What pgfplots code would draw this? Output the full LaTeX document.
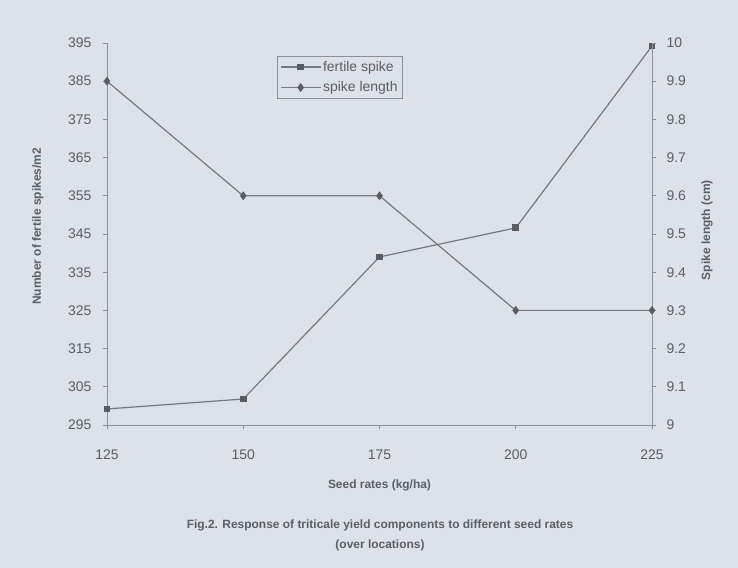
\documentclass[border=0pt]{standalone}
\usepackage{pgfplots}
\pgfplotsset{compat=1.18}
\usepackage{fontspec}
\setmainfont{Liberation Sans}
\definecolor{bgcol}{HTML}{DDE2EA}
\definecolor{txt}{HTML}{5A5E66}
\definecolor{ln}{HTML}{747882}
\definecolor{mk}{HTML}{585C64}
\definecolor{ax}{HTML}{8C9098}
\begin{document}
\begin{tikzpicture}
\fill[bgcol] (-107bp,-143bp) rectangle (631bp,425bp);
\useasboundingbox (-107bp,-143bp) rectangle (631bp,425bp);
\pgfplotsset{
 base/.style={scale only axis, width=545bp, height=382bp, xmin=125, xmax=225,
  at={(0,0)}, anchor=south west,
  axis line style={ax, line width=0.8pt}, tick style={ax, line width=0.8pt},
  tick align=outside, major tick length=4bp,
  ticklabel style={font=\fontsize{14}{16}\selectfont, text=txt},
  label style={font=\bfseries\fontsize{12}{14}\selectfont, text=txt},
  /pgf/number format/assume math mode=true},
}
\begin{axis}[base, axis y line*=left, axis x line*=bottom,
  ymin=295, ymax=395, ytick={295,305,315,325,335,345,355,365,375,385,395},
  xtick={125,150,175,200,225},
  xticklabel style={yshift=-17bp},
  yticklabel style={xshift=-8bp},
  ylabel={Number of fertile spikes/m2}, xlabel={Seed rates (kg/ha)},
  xlabel style={at={(axis description cs:0.5,0)}, anchor=center, yshift=-60bp},
  ylabel style={at={(axis description cs:-0.127,0.52)}, anchor=center},
]
\addplot[ln, line width=1.2pt, mark=square*, mark size=2.8bp, mark options={mk, fill=mk}]
  coordinates {(125,299.2)(150,301.8)(175,339)(200,346.6)(225,394.2)};
\end{axis}
\begin{axis}[base, axis y line*=right, axis x line=none,
  ymin=9, ymax=10, ytick={9,9.1,9.2,9.3,9.4,9.5,9.6,9.7,9.8,9.9,10},
  yticklabel style={xshift=7bp},
  ylabel={Spike length (cm)},
  ylabel style={at={(axis description cs:1.101,0.51)}, anchor=center},
  legend style={at={(axis description cs:0.312,0.966)}, anchor=north west, draw=ax, fill=none,
    font=\fontsize{14}{16}\selectfont, text=txt, row sep=5bp, inner sep=3bp},
  legend cell align=left,
  legend image code/.code={\draw[mark repeat=2,mark phase=2,#1] plot coordinates {(0cm,0cm) (0.7cm,0cm) (1.4cm,0cm)};},
]
\addlegendimage{ln, line width=1.2pt, mark=square*, mark size=2.8bp, mark options={mk, fill=mk}}
\addlegendentry{fertile spike}
\addplot[ln, line width=1.2pt, mark=diamond*, mark size=3.5bp, mark options={mk, fill=mk}]
  coordinates {(125,9.9)(150,9.6)(175,9.6)(200,9.3)(225,9.3)};
\addlegendentry{spike length}
\end{axis}
\node[font=\bfseries\fontsize{12}{20}\selectfont, text=txt, align=center] at (273bp,-110bp)
  {Fig.2. Response of triticale yield components to different seed rates\\(over locations)};
\end{tikzpicture}
\end{document}
